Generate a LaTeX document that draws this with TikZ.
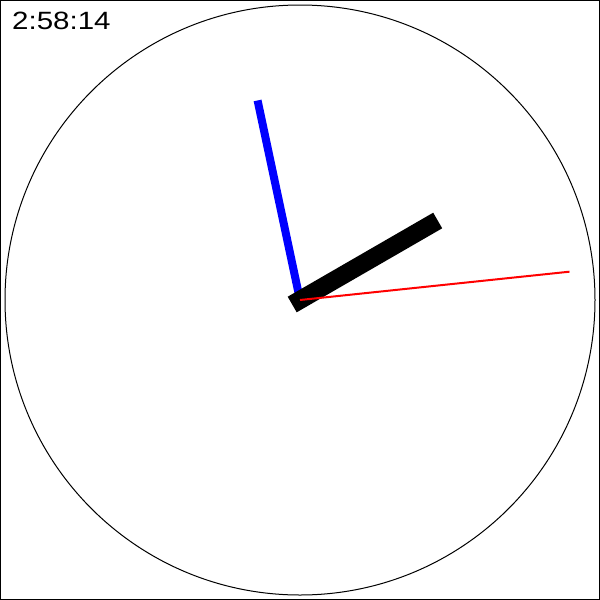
\documentclass[tikz,border=0pt]{standalone}
\usepackage{fontspec}
\usetikzlibrary{calc}
\newfontfamily\clockfont{Liberation Sans}
\begin{document}
\begin{tikzpicture}[x=1pt,y=-1pt,
  frame/.style={draw=black,line width=1pt},
  dial/.style={draw=black,line width=1pt},
  hourhand/.style={draw=black,line width=18pt,line cap=rect},
  minutehand/.style={draw=blue,line width=8pt,line cap=rect},
  secondhand/.style={draw=red,line width=2pt,line cap=butt},
  timelabel/.style={inner sep=0pt,anchor=base west,font=\clockfont\fontsize{25}{25}\selectfont}]
\useasboundingbox (0,0) rectangle (600,600);
\draw[frame] (0.5,0.5) rectangle (599.5,599.5);
\coordinate (c) at (300,300);
\draw[dial] (c) circle[radius=295];
\coordinate (m) at ($(c)+(-0.2079*200,-0.9781*200)$);
\coordinate (h) at ($(c)+(0.8660*150,-0.5*150)$);
\coordinate (s) at ($(c)+(0.9945*271,-0.1045*271)$);
\draw[minutehand] (c) -- (m);
\draw[hourhand] (c) -- (h);
\draw[secondhand] (c) -- (s);
\node[timelabel] (t) at (12,29) {\scalebox{1.18}[1]{2:58:14}};
\end{tikzpicture}
\end{document}
